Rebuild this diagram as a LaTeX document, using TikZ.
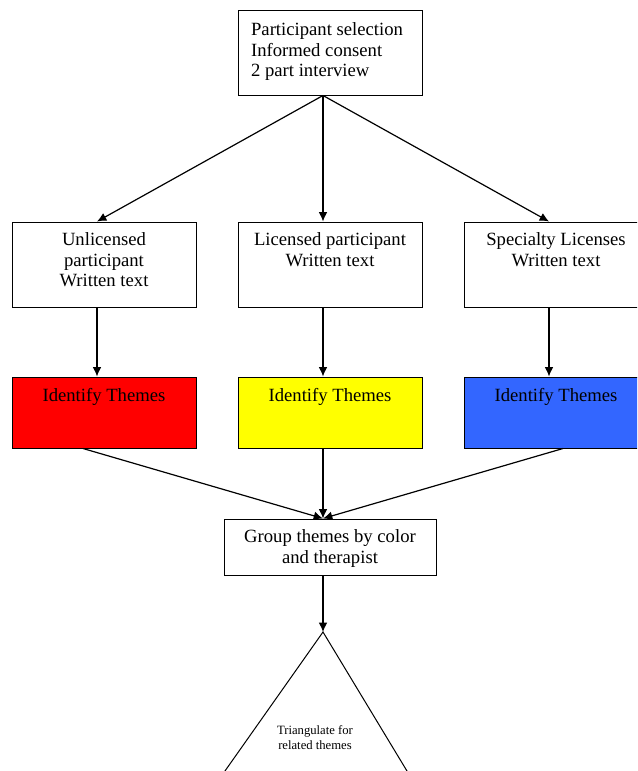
\documentclass[tikz,border=0pt]{standalone}
\usepackage{fontspec}
\setmainfont{Liberation Serif}
\usetikzlibrary{arrows.meta,positioning}

\definecolor{themered}{RGB}{255,0,0}
\definecolor{themeyellow}{RGB}{255,255,0}
\definecolor{themeblue}{RGB}{51,102,255}

\begin{document}
\begin{tikzpicture}[x=0.75pt,y=-0.75pt,line width=0.9pt,
    ->,>={Latex[length=7pt,width=6.5pt]},
    box/.style={rectangle,draw,line width=0.75pt,inner sep=0pt,minimum width=138pt,minimum height=63.75pt},
    theme/.style={box,minimum height=53.25pt},
    txt/.style={inner sep=0pt,align=center,font=\fontsize{14}{15.6}\selectfont}]
      \path[use as bounding box,clip] (0,0) rectangle (637,771);

      % start
      \node[box] (top) at (330,52.5) {};
      \node[txt,align=left,below right=9.2pt and 9.75pt of top.north west] (toptext)
        {Participant selection\\Informed consent\\2 part interview};

      % participants
      \node[box] (unlic) at (104,264.5) {};
      \node[box] (lic)   at (330,264.5) {};
      \node[box] (spec)  at (556,264.5) {};
      \node[txt,below=7.7pt of unlic.north] (unlictext) {Unlicensed\\participant\\Written text};
      \node[txt,below=7.7pt of lic.north]   (lictext)   {Licensed participant\\Written text};
      \node[txt,below=7.7pt of spec.north]  (spectext)  {Specialty Licenses\\Written text};

      % themes
      \node[theme,fill=themered]    (red)    at (104,412.5) {};
      \node[theme,fill=themeyellow] (yellow) at (330,412.5) {};
      \node[theme,fill=themeblue]   (blue)   at (556,412.5) {};
      \node[txt,below=8.5pt of red.north]    (redtext)    {Identify Themes};
      \node[txt,below=8.5pt of yellow.north] (yellowtext) {Identify Themes};
      \node[txt,below=8.5pt of blue.north]   (bluetext)   {Identify Themes};

      \node[box,minimum width=159pt,minimum height=42pt] (group) at (330,547) {};
      \node[txt,below=7.7pt of group.north] (grouptext) {Group themes by color\\and therapist};

      % triangle, cut by the page edge
      \coordinate (apex) at (323,632);
      \draw[-,line width=0.75pt] (204.5,800) -- (apex) -- (424.5,800);
      \node[inner sep=0pt,align=center,font=\fontsize{9.5}{11.25}\selectfont,anchor=north]
        (tritext) at (315,725.3) {Triangulate for\\related themes};

      \path
        ([xshift=-5.25pt]top.south)    edge ([xshift=-5.25pt]unlic.north)
                                       edge ([xshift=-5.25pt]lic.north)
                                       edge ([xshift=-5.25pt]spec.north)
        ([xshift=-5.25pt]unlic.south)  edge ([xshift=-5.25pt]red.north)
        ([xshift=-5.25pt]lic.south)    edge ([xshift=-5.25pt]yellow.north)
        ([xshift=-5.25pt]spec.south)   edge ([xshift=-5.25pt]blue.north)
        ([xshift=-15.75pt]red.south)   edge ([xshift=-5.25pt]group.north)
        ([xshift=-5.25pt]yellow.south) edge ([xshift=-5.25pt]group.north)
        ([xshift=5.25pt]blue.south)    edge ([xshift=-5.25pt]group.north)
        ([xshift=-5.25pt]group.south)  edge (apex);
    \end{tikzpicture}
\end{document}
